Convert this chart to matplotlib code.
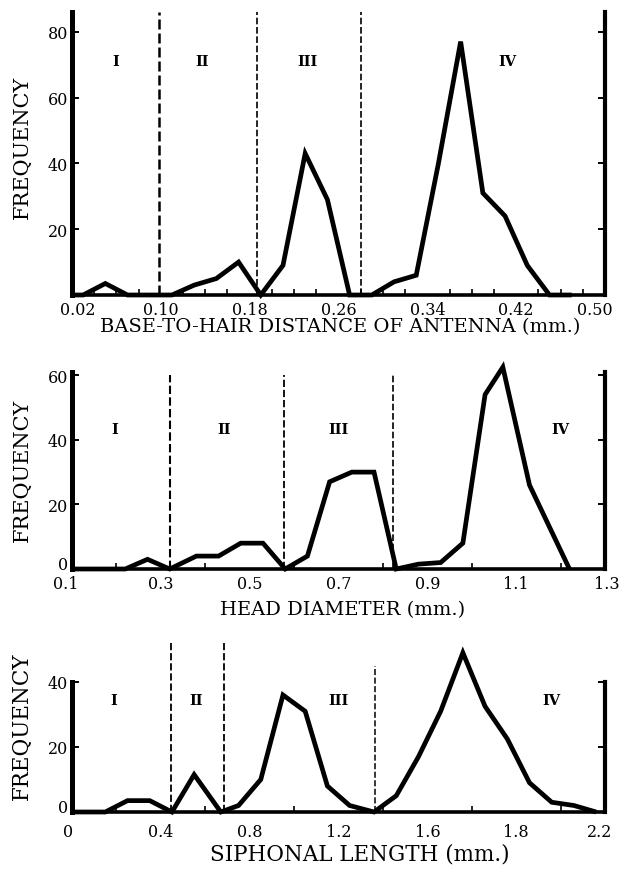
import matplotlib
matplotlib.use("Agg")
import matplotlib.pyplot as plt
import matplotlib.transforms as mtransforms

# ---------------- data ----------------
# Panel 1: base-to-hair distance of antenna (mm)
p1_x = [0.02, 0.03, 0.05, 0.07, 0.09, 0.11, 0.13, 0.15, 0.17, 0.19, 0.21, 0.23, 0.25, 0.27,
        0.29, 0.31, 0.33, 0.35, 0.37, 0.39, 0.41, 0.43, 0.45, 0.47]
p1_y = [0, 0, 3.5, 0, 0, 0, 3, 5, 10, 0, 9, 43, 29, 0,
        0, 4, 6, 40, 77, 31, 24, 9, 0, 0]
p1_bounds = [0.098, 0.187, 0.280]
p1_groups = ["I", "II", "III", "IV"]
p1_group_x = [0.059, 0.137, 0.232, 0.412]
p1_xticks = [0.02, 0.10, 0.18, 0.26, 0.34, 0.42, 0.50]
p1_xticklabels = ["0.02", "0.10", "0.18", "0.26", "0.34", "0.42", "0.50"]
p1_yticks = [20, 40, 60, 80]

# Panel 2: head diameter (mm)
p2_x = [0.1, 0.22, 0.27, 0.32, 0.38, 0.43, 0.48, 0.53, 0.58, 0.63, 0.68, 0.73, 0.78, 0.83,
        0.88, 0.93, 0.98, 1.03, 1.07, 1.13, 1.22]
p2_y = [0, 0, 3, 0, 4, 4, 8, 8, 0, 4, 27, 30, 30, 0,
        1.5, 2, 8, 54, 62.5, 26, 0]
p2_bounds = [0.32, 0.578, 0.822]
p2_groups = ["I", "II", "III", "IV"]
p2_group_x = [0.197, 0.443, 0.70, 1.20]
p2_xticks = [0.1, 0.3, 0.5, 0.7, 0.9, 1.1, 1.3]
p2_xticklabels = ["0.1", "0.3", "0.5", "0.7", "0.9", "1.1", "1.3"]
p2_yticks = [0, 20, 40, 60]

# Panel 3: siphonal length (mm) -- axis positions, labels as printed
p3_x = [0, 0.15, 0.25, 0.35, 0.45, 0.55, 0.67, 0.75, 0.85, 0.95, 1.05, 1.15, 1.25, 1.36,
        1.46, 1.56, 1.66, 1.76, 1.86, 1.96, 2.06, 2.16, 2.26, 2.36]
p3_y = [0, 0, 3.5, 3.5, 0, 11.5, 0, 2, 10, 36, 31, 8, 2, 0,
        5, 17, 31, 49, 32.5, 22.5, 9, 3, 2, 0]
p3_bounds = [0.447, 0.685, 1.366]
p3_groups = ["I", "II", "III", "IV"]
p3_group_x = [0.19, 0.56, 1.20, 2.16]
p3_xticks = [0, 0.4, 0.8, 1.2, 1.6, 2.0, 2.4]
p3_xticklabels = ["0", "0.4", "0.8", "1.2", "1.6", "1.8", "2.2"]
p3_yticks = [0, 20, 40]

W, H = 620, 870
SERIF = ["DejaVu Serif"]
plt.rcParams["font.family"] = SERIF

fig = plt.figure(figsize=(W / 100, H / 100), dpi=100)
fig.patch.set_facecolor("white")


def rect(l, r, top, bot):
    return [l / W, (H - bot) / H, (r - l) / W, (bot - top) / H]


def shift(txt, dx_px, dy_px=0):
    txt.set_transform(txt.get_transform() +
                      mtransforms.ScaledTranslation(dx_px / 100, dy_px / 100,
                                                    fig.dpi_scale_trans))


panels = [
    dict(rect=rect(72, 605, 13, 296), x=p1_x, y=p1_y, xlim=(0.02, 0.50), ylim=(0, 86),
         bounds=p1_bounds, btop=[86, 86, 86], bw=[1.8, 1.2, 1.2],
         gx=p1_group_x, gy=71, groups=p1_groups,
         xt=p1_xticks, xtl=p1_xticklabels, minor_step=0.02, yt=p1_yticks,
         xpad=4, xshift={0: 6, 6: -10},
         xlabel="BASE-TO-HAIR DISTANCE OF ANTENNA (mm.)", xl_pos=(340, 327), xl_fs=14,
         yl_y=147, yl_fs=15),
    dict(rect=rect(72, 605, 373, 570), x=p2_x, y=p2_y, xlim=(0.1, 1.3), ylim=(0, 61),
         bounds=p2_bounds, btop=[60, 60, 60], bw=[1.5, 1.3, 1.2],
         gx=p2_group_x, gy=43.5, groups=p2_groups,
         xt=p2_xticks, xtl=p2_xticklabels, minor_step=0.1, yt=p2_yticks,
         xpad=4, xshift={0: -6, 6: 2},
         xlabel="HEAD DIAMETER (mm.)", xl_pos=(343, 610), xl_fs=14,
         yl_y=470, yl_fs=15),
    dict(rect=rect(72, 605, 683, 813), x=p3_x, y=p3_y, xlim=(0, 2.4), ylim=(0, 40),
         bounds=p3_bounds, btop=[52, 52, 45], bw=[1.3, 1.3, 1.1],
         gx=p3_group_x, gy=34.5, groups=p3_groups,
         xt=p3_xticks, xtl=p3_xticklabels, minor_step=0.2, yt=p3_yticks,
         xpad=8, xshift={0: -4, 6: -5},
         xlabel="SIPHONAL LENGTH (mm.)", xl_pos=(360, 855), xl_fs=15.5,
         yl_y=726, yl_fs=15.5),
]

for p in panels:
    ax = fig.add_axes(p["rect"])
    ax.set_facecolor("white")
    ax.set_xlim(*p["xlim"])
    ax.set_ylim(*p["ylim"])

    ax.plot(p["x"], p["y"], color="black", lw=3.4, solid_joinstyle="miter",
            solid_capstyle="butt", clip_on=False, zorder=4)

    for b, t, w in zip(p["bounds"], p["btop"], p["bw"]):
        ax.plot([b, b], [0, t], color="black", lw=w, ls=(0, (4, 1.6)),
                clip_on=False, zorder=3)

    for g, gx in zip(p["groups"], p["gx"]):
        ax.text(gx, p["gy"], g, ha="center", va="center", fontsize=10.5,
                fontweight="bold", family=SERIF)

    ax.spines["top"].set_visible(False)
    ax.spines["left"].set_linewidth(3.6)
    ax.spines["right"].set_linewidth(3.0)
    ax.spines["bottom"].set_linewidth(2.6)

    lo, hi = p["xlim"]
    n = int(round((hi - lo) / p["minor_step"]))
    minors = [lo + i * p["minor_step"] for i in range(1, n)]
    ax.set_xticks(p["xt"])
    ax.set_xticklabels(p["xtl"], fontsize=11.5)
    ax.set_xticks(minors, minor=True)
    ax.tick_params(axis="x", which="both", direction="in", length=4, width=1.2,
                   pad=p["xpad"])
    ax.tick_params(axis="x", which="major", length=0)
    xlabels = ax.get_xticklabels()
    for i, dx in p["xshift"].items():
        shift(xlabels[i], dx)

    ax.set_yticks(p["yt"])
    ax.set_yticklabels([str(v) for v in p["yt"]], fontsize=11.5)
    ax.tick_params(axis="y", which="major", direction="in", length=5, width=1.4,
                   pad=3, right=True, labelright=False)
    if p["yt"][0] == 0:
        ax.get_yticklabels()[0].set_va("baseline")

    fig.text(p["xl_pos"][0] / W, 1 - p["xl_pos"][1] / H, p["xlabel"], ha="center",
             va="center", fontsize=p["xl_fs"], family=SERIF)
    fig.text(22 / W, 1 - p["yl_y"] / H, "FREQUENCY", ha="center", va="center",
             rotation=90, fontsize=p["yl_fs"], family=SERIF)

fig.savefig("out.png", dpi=100, facecolor="white")
